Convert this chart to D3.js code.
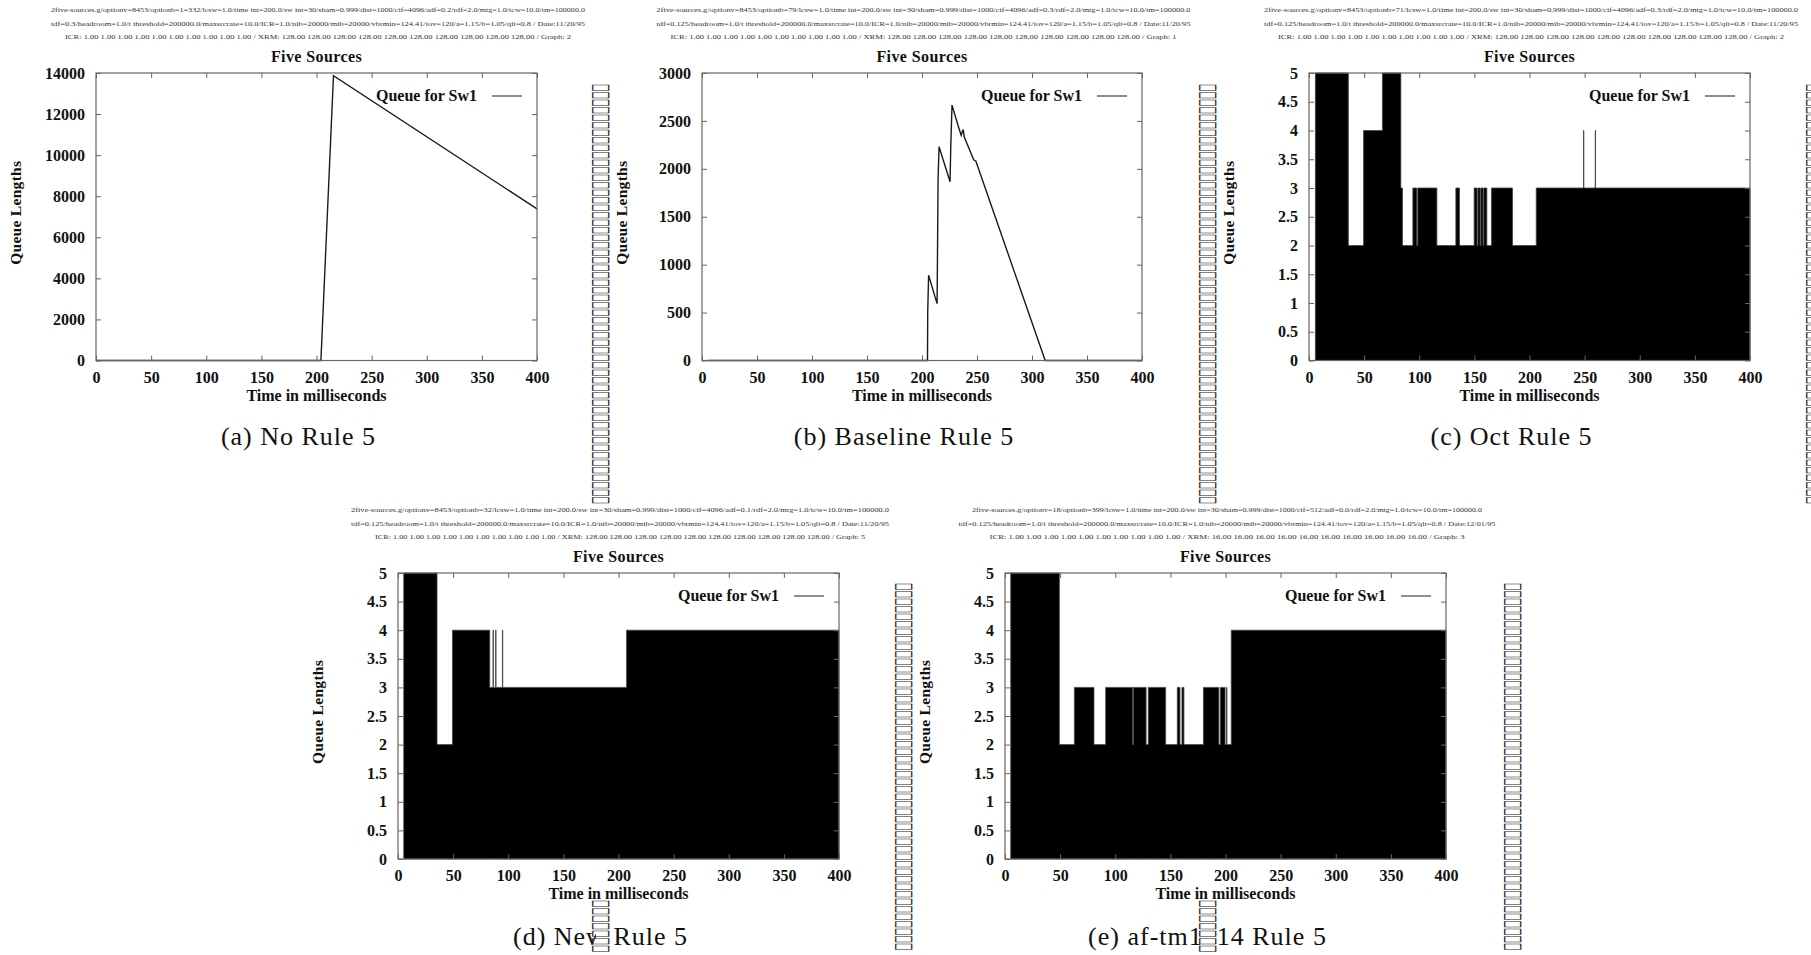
<!DOCTYPE html>
<html><head><meta charset="utf-8">
<script src="https://cdn.jsdelivr.net/npm/d3@7"></script>
<style>body{margin:0;background:#fff;overflow:hidden}</style>
</head><body>
<svg id="c" width="1811" height="955" xmlns="http://www.w3.org/2000/svg"></svg>
<script>
// ---------------- data ----------------
const xTicks = [0, 50, 100, 150, 200, 250, 300, 350, 400];
const xTickLabels = ["0", "50", "100", "150", "200", "250", "300", "350", "400"];
const yTicksA = [0, 2000, 4000, 6000, 8000, 10000, 12000, 14000];
const yTickLabelsA = ["0", "2000", "4000", "6000", "8000", "10000", "12000", "14000"];
const yTicksB = [0, 500, 1000, 1500, 2000, 2500, 3000];
const yTickLabelsB = ["0", "500", "1000", "1500", "2000", "2500", "3000"];
const yTicksStep = [0, 0.5, 1, 1.5, 2, 2.5, 3, 3.5, 4, 4.5, 5];
const yTickLabelsStep = ["0", "0.5", "1", "1.5", "2", "2.5", "3", "3.5", "4", "4.5", "5"];

const chartTitle = "Five Sources";
const xAxisTitle = "Time in milliseconds";
const yAxisTitle = "Queue Lengths";
const legendLabel = "Queue for Sw1";
const captions = ["(a) No Rule 5", "(b) Baseline Rule 5", "(c) Oct Rule 5", "(d) New Rule 5", "(e) af-tm1614 Rule 5"];

// (a) No Rule 5 : time (ms) / queue length
const timeA  = [0, 204, 215.4, 400];
const queueA = [0, 0, 13870, 7380];

// (b) Baseline Rule 5
const timeB  = [5, 205, 205.2, 206, 213.7, 214.0, 214.6, 215.5, 225.5, 226.2, 227.3, 232.7, 235.6, 237.4, 238.5, 247, 249, 312, 400];
const queueB = [0, 0, 500, 890, 593, 980, 1880, 2230, 1866, 2250, 2665, 2455, 2350, 2410, 2330, 2095, 2080, 0, 0];

// (c) Oct Rule 5 (step: value holds from time until next time)
const timeC  = [5.8, 35.7, 49.5, 66.6, 83.3, 84.8, 94.2, 97.8, 98.6, 116, 133.2, 136.5, 149.8, 152.5, 153.2, 155.2, 155.8, 157.9, 158.5, 161.3, 165.5, 184.6, 206.1, 249.0, 249.3, 259.6, 259.9, 400];
const queueC = [5, 2, 4, 5, 3, 2, 3, 2, 3, 2, 3, 2, 3, 2, 3, 2, 3, 2, 3, 2, 3, 2, 3, 4, 3, 4, 3, 3];

// (d) New Rule 5
const timeD  = [5.2, 35.4, 49.4, 83.2, 86.2, 86.5, 88.6, 88.9, 94.7, 95.0, 207.3, 400];
const queueD = [5, 2, 4, 3, 4, 3, 4, 3, 4, 3, 4, 4];

// (e) af-tm1614 Rule 5
const timeE  = [5.2, 49.3, 62.9, 80.7, 91.3, 115.8, 116.5, 128, 130, 145.7, 156.3, 158.7, 160.5, 162.3, 180, 194, 195.3, 199.6, 200.8, 201.3, 205.2, 400];
const queueE = [5, 2, 3, 2, 3, 2, 3, 2, 3, 2, 3, 2, 3, 2, 3, 2, 3, 2, 3, 2, 4, 4];

const headerA = [
  "2five-sources.g/optionv=8453/optionb=1=332/lcsw=1.0/time int=200.0/sw int=30/sham=0.999/dist=1000/cif=4096/adf=0.2/rdf=2.0/mtg=1.0/tcw=10.0/tm=100000.0",
  "tdf=0.3/headroom=1.0/t threshold=200000.0/maxsrcrate=10.0/ICR=1.0/nib=20000/mib=20000/vbrmin=124.41/tov=120/a=1.15/b=1.05/qlt=0.8 / Date:11/20/95",
  "ICR: 1.00 1.00 1.00 1.00 1.00 1.00 1.00 1.00 1.00 1.00 / XRM: 128.00 128.00 128.00 128.00 128.00 128.00 128.00 128.00 128.00 128.00 / Graph: 2"];
const headerB = [
  "2five-sources.g/optionv=8453/optionb=79/lcsw=1.0/time int=200.0/sw int=30/sham=0.999/dist=1000/cif=4096/adf=0.3/rdf=2.0/mtg=1.0/tcw=10.0/tm=100000.0",
  "tdf=0.125/headroom=1.0/t threshold=200000.0/maxsrcrate=10.0/ICR=1.0/nib=20000/mib=20000/vbrmin=124.41/tov=120/a=1.15/b=1.05/qlt=0.8 / Date:11/20/95",
  "ICR: 1.00 1.00 1.00 1.00 1.00 1.00 1.00 1.00 1.00 1.00 / XRM: 128.00 128.00 128.00 128.00 128.00 128.00 128.00 128.00 128.00 128.00 / Graph: 1"];
const headerC = [
  "2five-sources.g/optionv=8453/optionb=71/lcsw=1.0/time int=200.0/sw int=30/sham=0.999/dist=1000/cif=4096/adf=0.3/rdf=2.0/mtg=1.0/tcw=10.0/tm=100000.0",
  "tdf=0.125/headroom=1.0/t threshold=200000.0/maxsrcrate=10.0/ICR=1.0/nib=20000/mib=20000/vbrmin=124.41/tov=120/a=1.15/b=1.05/qlt=0.8 / Date:11/20/95",
  "ICR: 1.00 1.00 1.00 1.00 1.00 1.00 1.00 1.00 1.00 1.00 / XRM: 128.00 128.00 128.00 128.00 128.00 128.00 128.00 128.00 128.00 128.00 / Graph: 2"];
const headerD = [
  "2five-sources.g/optionv=8453/optionb=32/lcsw=1.0/time int=200.0/sw int=30/sham=0.999/dist=1000/cif=4096/adf=0.1/rdf=2.0/mtg=1.0/tcw=10.0/tm=100000.0",
  "tdf=0.125/headroom=1.0/t threshold=200000.0/maxsrcrate=10.0/ICR=1.0/nib=20000/mib=20000/vbrmin=124.41/tov=120/a=1.15/b=1.05/qlt=0.8 / Date:11/20/95",
  "ICR: 1.00 1.00 1.00 1.00 1.00 1.00 1.00 1.00 1.00 1.00 / XRM: 128.00 128.00 128.00 128.00 128.00 128.00 128.00 128.00 128.00 128.00 / Graph: 5"];
const headerE = [
  "2five-sources.g/optionv=18/optionb=399/lcsw=1.0/time int=200.0/sw int=30/sham=0.999/dist=1000/cif=512/adf=0.0/rdf=2.0/mtg=1.0/tcw=10.0/tm=100000.0",
  "tdf=0.125/headroom=1.0/t threshold=200000.0/maxsrcrate=10.0/ICR=1.0/nib=20000/mib=20000/vbrmin=124.41/tov=120/a=1.15/b=1.05/qlt=0.8 / Date:12/01/95",
  "ICR: 1.00 1.00 1.00 1.00 1.00 1.00 1.00 1.00 1.00 1.00 / XRM: 16.00 16.00 16.00 16.00 16.00 16.00 16.00 16.00 16.00 16.00 / Graph: 3"];

// ---------------- layout ----------------
const panels = [
  {x0: 96,   x1: 537,  y0: 73,  y1: 360.5, kind: "line", t: timeA, v: queueA, ymax: 14000, yt: yTicksA, yl: yTickLabelsA, hdr: headerA, hw: [534, 534, 506], cap: captions[0]},
  {x0: 702,  x1: 1142, y0: 73,  y1: 360.5, kind: "line", t: timeB, v: queueB, ymax: 3000,  yt: yTicksB, yl: yTickLabelsB, hdr: headerB, hw: [534, 534, 506], cap: captions[1]},
  {x0: 1309, x1: 1750, y0: 73,  y1: 360.5, kind: "step", t: timeC, v: queueC, ymax: 5, yt: yTicksStep, yl: yTickLabelsStep, hdr: headerC, hw: [534, 534, 506], cap: captions[2]},
  {x0: 398,  x1: 839,  y0: 573, y1: 859,   kind: "step", t: timeD, v: queueD, ymax: 5, yt: yTicksStep, yl: yTickLabelsStep, hdr: headerD, hw: [538, 538, 490], cap: captions[3]},
  {x0: 1005, x1: 1446, y0: 573, y1: 859,   kind: "step", t: timeE, v: queueE, ymax: 5, yt: yTicksStep, yl: yTickLabelsStep, hdr: headerE, hw: [510, 537, 475], cap: captions[4]}
];

// stray glyph columns (tofu boxes) seen in the picture
const tofuCols = [
  {cx: 603,  y0: 84,  n: 56},
  {cx: 1210, y0: 84,  n: 56},
  {cx: 1817, y0: 84,  n: 56},
  {cx: 906,  y0: 583, n: 49},
  {cx: 1515, y0: 583, n: 49},
  {cx: 603,  y0: 900, n: 7},
  {cx: 1210, y0: 900, n: 7}
];

const SERIF = "'Liberation Serif', 'Times New Roman', serif";
const svg = d3.select("#c");
svg.append("rect").attr("width", 1811).attr("height", 955).attr("fill", "#fff");

function drawPanel(p) {
  const x = d3.scaleLinear().domain([0, 400]).range([p.x0, p.x1]);
  const y = d3.scaleLinear().domain([0, p.ymax]).range([p.y1, p.y0]);
  const g = svg.append("g");
  const cx = (p.x0 + p.x1) / 2;

  // header lines
  const hy = [p.y0 - 61, p.y0 - 47.5, p.y0 - 34];
  p.hdr.forEach((s, i) => {
    g.append("text").attr("x", cx + 1.5).attr("y", hy[i])
      .attr("text-anchor", "middle").attr("font-family", SERIF).attr("font-size", 7)
      .attr("fill", "#333").attr("textLength", p.hw[i]).attr("lengthAdjust", "spacingAndGlyphs")
      .text(s);
  });

  // title
  g.append("text").attr("x", cx).attr("y", p.y0 - 11).attr("text-anchor", "middle")
    .attr("font-family", SERIF).attr("font-weight", "bold").attr("font-size", 16)
    .attr("letter-spacing", 0.4).attr("fill", "#111").text(chartTitle);

  // data
  const pts = d3.zip(p.t, p.v);
  if (p.kind === "line") {
    g.append("path").datum(pts)
      .attr("d", d3.line().x(d => x(d[0])).y(d => y(d[1])))
      .attr("fill", "none").attr("stroke", "#1a1a1a").attr("stroke-width", 1.4);
  } else {
    g.append("path").datum(pts)
      .attr("d", d3.area().curve(d3.curveStepAfter).x(d => x(d[0])).y0(y(0)).y1(d => y(d[1])))
      .attr("fill", "#000").attr("stroke", "#444").attr("stroke-width", 0.8);
  }

  // axes (gnuplot-style inward ticks on all four sides)
  const styleAxis = a => {
    a.select(".domain").remove();
    a.selectAll(".tick line").attr("stroke", "#666").attr("stroke-width", 1);
    a.attr("font-family", SERIF).attr("font-size", 16).attr("font-weight", "bold");
    a.selectAll("text").attr("fill", "#111");
  };
  g.append("g").attr("transform", `translate(0,${p.y1})`)
    .call(d3.axisBottom(x).tickValues(xTicks).tickFormat((d, i) => xTickLabels[i]).tickSizeInner(-5).tickSizeOuter(0).tickPadding(11))
    .call(styleAxis);
  g.append("g").attr("transform", `translate(0,${p.y0})`)
    .call(d3.axisTop(x).tickValues(xTicks).tickFormat("").tickSizeInner(-5).tickSizeOuter(0))
    .call(styleAxis);
  g.append("g").attr("transform", `translate(${p.x0},0)`)
    .call(d3.axisLeft(y).tickValues(p.yt).tickFormat((d, i) => p.yl[i]).tickSizeInner(-5).tickSizeOuter(0).tickPadding(11))
    .call(styleAxis);
  g.append("g").attr("transform", `translate(${p.x1},0)`)
    .call(d3.axisRight(y).tickValues(p.yt).tickFormat("").tickSizeInner(-5).tickSizeOuter(0))
    .call(styleAxis);

  // frame
  g.append("rect").attr("x", p.x0).attr("y", p.y0).attr("width", p.x1 - p.x0).attr("height", p.y1 - p.y0)
    .attr("fill", "none").attr("stroke", "#666").attr("stroke-width", 1.2);

  // axis titles
  g.append("text").attr("x", cx).attr("y", p.y1 + 40).attr("text-anchor", "middle")
    .attr("font-family", SERIF).attr("font-weight", "bold").attr("font-size", 16).attr("fill", "#111")
    .text(xAxisTitle);
  g.append("text").attr("transform", `translate(${p.x0 - 75},${(p.y0 + p.y1) / 2 - 4}) rotate(-90)`)
    .attr("text-anchor", "middle").attr("font-family", SERIF).attr("font-weight", "bold")
    .attr("font-size", 15.5).attr("letter-spacing", 0.3).attr("fill", "#111").text(yAxisTitle);

  // legend
  g.append("text").attr("x", p.x1 - 60).attr("y", p.y0 + 28).attr("text-anchor", "end")
    .attr("font-family", SERIF).attr("font-weight", "bold").attr("font-size", 16).attr("fill", "#111")
    .text(legendLabel);
  g.append("line").attr("x1", p.x1 - 45).attr("x2", p.x1 - 15).attr("y1", p.y0 + 23).attr("y2", p.y0 + 23)
    .attr("stroke", "#444").attr("stroke-width", 1.2);

  // caption
  g.append("text").attr("x", cx - 18).attr("y", p.y0 + 372).attr("text-anchor", "middle")
    .attr("font-family", SERIF).attr("font-size", 26).attr("letter-spacing", 1).attr("fill", "#111")
    .text(p.cap);
}

panels.forEach(drawPanel);

// tofu columns: rotated strings of box glyphs, stretched across the column width
tofuCols.forEach(c => {
  const len = c.n * 7.5;
  svg.append("rect").attr("x", c.cx - 7).attr("y", c.y0).attr("width", 14).attr("height", len).attr("fill", "#fff");
  svg.append("text").attr("transform", `translate(${c.cx},${c.y0}) rotate(90) scale(1,2.3)`)
    .attr("font-family", "'DejaVu Sans'").attr("font-size", 9.7).attr("dominant-baseline", "central")
    .attr("fill", "#222").attr("textLength", len).attr("lengthAdjust", "spacingAndGlyphs")
    .text("\u25A1".repeat(c.n));
});
</script>
</body></html>
